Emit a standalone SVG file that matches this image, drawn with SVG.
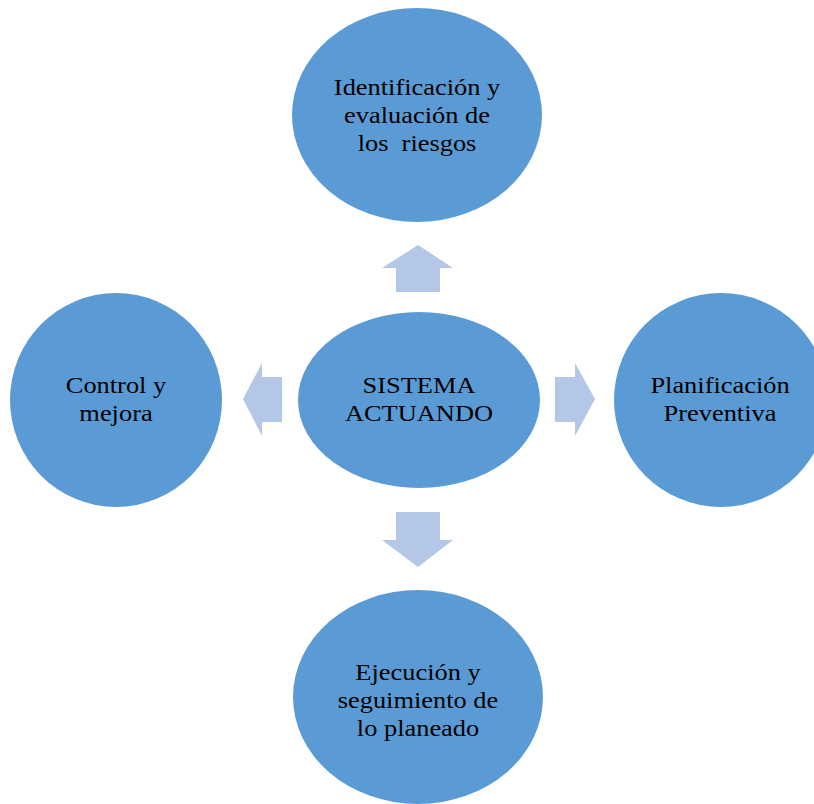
<svg xmlns="http://www.w3.org/2000/svg" width="814" height="804" viewBox="0 0 814 804">
<style>
.node{fill:#5B9BD5;}
.arr{fill:#B4C7E7;}
text{font-family:"Liberation Serif","Times New Roman",serif;font-size:24px;fill:#000;text-anchor:middle;white-space:pre;}
</style>
<rect width="814" height="804" fill="#fff"/>
<g id="connectors">
<polygon class="arr" points="418,245 453,268 440,268 440,292 396,292 396,268 382,268"/>
<polygon class="arr" points="418,567 453,540 440,540 440,512 396,512 396,540 382,540"/>
<polygon class="arr" points="243,399 262,363 262,377 282,377 282,422 262,422 262,436"/>
<polygon class="arr" points="595,399 575,363 575,377 555,377 555,422 575,422 575,436"/>
</g>
<g id="n-top">
<ellipse class="node" cx="417" cy="115" rx="125" ry="107"/>
<g transform="translate(417,0) scale(1.1,1)">
<text x="0" y="95">Identificación y</text>
<text x="0" y="123">evaluación de</text>
<text x="0" y="151" xml:space="preserve">los  riesgos</text>
</g>
</g>
<g id="n-center">
<ellipse class="node" cx="419" cy="400" rx="121" ry="88"/>
<g transform="translate(419,0) scale(1.1,1)">
<text x="0" y="393">SISTEMA</text>
<text x="0" y="421">ACTUANDO</text>
</g>
</g>
<g id="n-right">
<ellipse class="node" cx="721" cy="400" rx="107" ry="107"/>
<g transform="translate(720,0) scale(1.1,1)">
<text x="0" y="393">Planificación</text>
<text x="0" y="421">Preventiva</text>
</g>
</g>
<g id="n-left">
<ellipse class="node" cx="116" cy="400" rx="106" ry="107"/>
<g transform="translate(116,0) scale(1.1,1)">
<text x="0" y="393">Control y</text>
<text x="0" y="421">mejora</text>
</g>
</g>
<g id="n-bottom">
<ellipse class="node" cx="418" cy="697" rx="125" ry="107"/>
<g transform="translate(418,0) scale(1.1,1)">
<text x="0" y="680">Ejecución y</text>
<text x="0" y="708">seguimiento de</text>
<text x="0" y="736">lo planeado</text>
</g>
</g>
</svg>
